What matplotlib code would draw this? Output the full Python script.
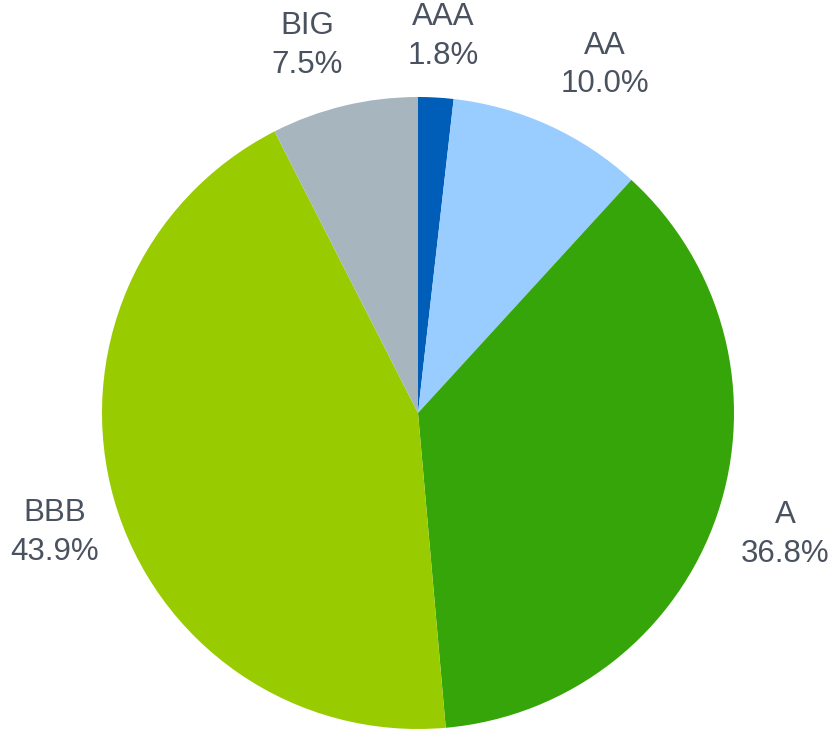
import numpy as np
import matplotlib.pyplot as plt

labels = ['AAA', 'AA', 'A', 'BBB', 'BIG']
shares = [1.8, 10.0, 36.8, 43.9, 7.5]
colors = ['#005eb8', '#99ccff', '#36a509', '#99cc00', '#a7b5bf']

W, H = 831, 731
cx, cy, R = 418, 413, 316

fig = plt.figure(figsize=(W / 100, H / 100), dpi=100)
ax = fig.add_axes([0, 0, 1, 1])

wedges, _ = ax.pie(shares, colors=colors, startangle=90, counterclock=False,
                   radius=1.0, wedgeprops=dict(linewidth=0))

# labels sit outside the pie on each slice's mid-angle, with small pixel nudges
nudges = [(4, -2), (30, 3), (8, 0), (1, -15), (-22, -1)]
for w, lab, val, (nx, ny) in zip(wedges, labels, shares, nudges):
    ang = np.deg2rad((w.theta1 + w.theta2) / 2)
    x = 1.2 * np.cos(ang) + nx / R
    y = 1.2 * np.sin(ang) + ny / R
    ax.text(x, y, f'{lab}\n{val:.1f}%', ha='center', va='center',
            fontsize=22.5, color='#4a5260', family='Liberation Sans',
            linespacing=1.38)

ax.set_xlim(-cx / R, (W - cx) / R)
ax.set_ylim(-(H - cy) / R, cy / R)
ax.axis('off')

fig.savefig('out.png', dpi=100, facecolor='white')
